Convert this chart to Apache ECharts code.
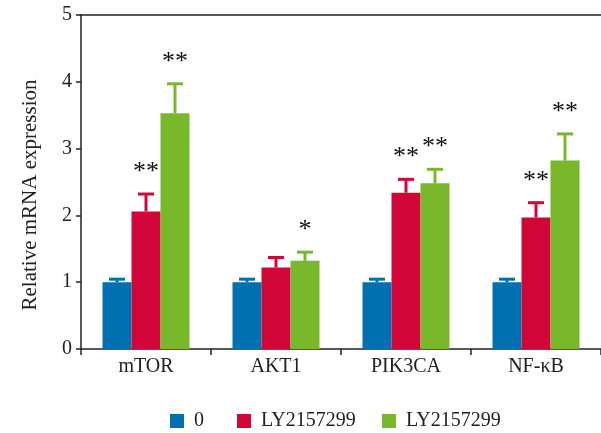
<!DOCTYPE html>
<html>
<head>
<meta charset="utf-8">
<script src="https://cdn.jsdelivr.net/npm/echarts@6/dist/echarts.min.js"></script>
<style>html,body{margin:0;padding:0;background:#fff}#c{width:601px;height:433px}</style>
</head>
<body>
<div id="c"></div>
<script>
const categories = ['mTOR', 'AKT1', 'PIK3CA', 'NF-\u03baB'];
const seriesNames = ['0', 'LY2157299', 'LY2157299 (high)'];
const legendLabels = ['0', 'LY2157299', 'LY2157299'];
const ctrlValues = [1.0, 1.0, 1.0, 1.0];
const ctrlErrTop = [1.045, 1.045, 1.045, 1.045];
const lowValues = [2.06, 1.22, 2.34, 1.97];
const lowErrTop = [2.32, 1.37, 2.54, 2.19];
const highValues = [3.53, 1.32, 2.48, 2.82];
const highErrTop = [3.97, 1.45, 2.69, 3.22];
const ctrlStars = ['', '', '', ''];
const lowStars = ['**', '', '**', '**'];
const highStars = ['**', '*', '**', '**'];
const yTicks = [0, 1, 2, 3, 4, 5];

const colors = ['#0070b0', '#d20538', '#79b72b'];
const BAR_W = 29;
const offsets = [-BAR_W, 0, BAR_W];
const FONT = '"Liberation Serif", "DejaVu Serif", serif';

const valueSets = [ctrlValues, lowValues, highValues];
const errSets = [ctrlErrTop, lowErrTop, highErrTop];
const starSets = [ctrlStars, lowStars, highStars];

const chart = echarts.init(document.getElementById('c'), null, {renderer: 'canvas'});

const series = [];
valueSets.forEach((vals, i) => {
  series.push({
    name: seriesNames[i],
    type: 'bar',
    data: vals,
    barWidth: BAR_W,
    barGap: '0%',
    itemStyle: {color: colors[i]},
    z: 2,
    silent: true
  });
});
valueSets.forEach((vals, i) => {
  const off = offsets[i];
  const col = colors[i];
  const stars = starSets[i];
  series.push({
    name: seriesNames[i],
    type: 'custom',
    z: 3,
    silent: true,
    data: vals.map((v, k) => [k, v, errSets[i][k]]),
    encode: {x: 0, y: [1, 2]},
    renderItem: function (params, api) {
      const ci = api.value(0);
      const base = api.coord([ci, api.value(1)]);
      const top = api.coord([ci, api.value(2)]);
      const x = base[0] + off;
      const children = [
        {type: 'line', shape: {x1: x, y1: base[1], x2: x, y2: top[1]}, style: {stroke: col, lineWidth: 3}},
        {type: 'line', shape: {x1: x - 8, y1: top[1], x2: x + 8, y2: top[1]}, style: {stroke: col, lineWidth: 3}}
      ];
      const s = stars[params.dataIndex];
      if (s) {
        children.push({
          type: 'text',
          style: {
            text: s, x: x, y: top[1] - 9,
            align: 'center', verticalAlign: 'bottom',
            fill: '#111', font: '26px ' + FONT
          }
        });
      }
      return {type: 'group', children: children};
    }
  });
});

const legendLefts = [170, 237, 382];
const legends = seriesNames.map((n, i) => ({
  data: [n],
  left: legendLefts[i],
  top: 411,
  padding: 0,
  icon: 'rect',
  itemWidth: 14,
  itemHeight: 14,
  itemGap: 0,
  selectedMode: false,
  formatter: () => legendLabels[i],
  textStyle: {fontFamily: FONT, fontSize: 20, color: '#222', padding: [0, 0, 0, 5]}
}));

chart.setOption({
  animation: false,
  backgroundColor: '#fff',
  legend: legends,
  grid: {left: 81, top: 15, width: 522, bottom: 84, containLabel: false},
  xAxis: [{
    type: 'category',
    data: categories,
    axisLine: {lineStyle: {color: '#222', width: 1.5}},
    axisTick: {show: true, length: 6, alignWithLabel: false, lineStyle: {color: '#222', width: 1.5}},
    axisLabel: {fontFamily: FONT, fontSize: 20, color: '#222', margin: 8}
  }, {
    type: 'category',
    data: categories,
    position: 'top',
    axisLine: {show: true, lineStyle: {color: '#222', width: 1.5}},
    axisTick: {show: false},
    axisLabel: {show: false}
  }],
  yAxis: {
    type: 'value',
    min: yTicks[0],
    max: yTicks[yTicks.length - 1],
    interval: 1,
    name: 'Relative mRNA expression',
    nameLocation: 'middle',
    nameGap: 40,
    nameTextStyle: {fontFamily: FONT, fontSize: 21, color: '#222', padding: [0, 26, 0, 0]},
    axisLine: {show: true, lineStyle: {color: '#222', width: 1.5}},
    axisTick: {show: true, length: 5, lineStyle: {color: '#222', width: 1.5}},
    axisLabel: {fontFamily: FONT, fontSize: 20, color: '#222', margin: 9},
    splitLine: {show: false}
  },
  series: series
});
</script>
</body>
</html>
